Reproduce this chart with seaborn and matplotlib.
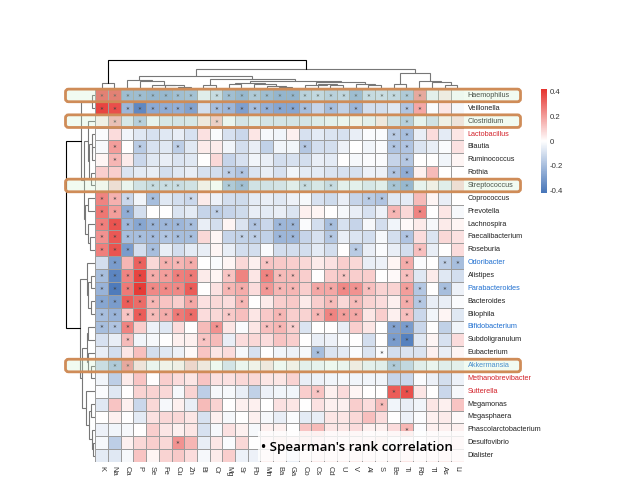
import matplotlib
matplotlib.use("Agg")
import matplotlib.pyplot as plt
import seaborn as sns
import pandas as pd
import numpy as np
from matplotlib.colors import LinearSegmentedColormap
from matplotlib.patches import FancyBboxPatch, Rectangle

W, H = 633, 504

elements = ["K", "Na", "Ca", "P", "Se", "Fe", "Cu", "Zn", "Bi", "Cr", "Mg", "Sr", "Pb", "Mn", "Ba",
            "Ga", "Co", "Cs", "Cd", "U", "V", "Al", "S", "Be", "Ti", "Rb", "Tl", "As", "Li"]

genera = ["Haemophilus", "Veillonella", "Clostridium", "Lactobacillus", "Blautia", "Ruminococcus",
          "Rothia", "Streptococcus", "Coprococcus", "Prevotella", "Lachnospira", "Faecalibacterium",
          "Roseburia", "Odoribacter", "Alistipes", "Parabacteroides", "Bacteroides", "Bilophila",
          "Bifidobacterium", "Subdoligranulum", "Eubacterium", "Akkermansia", "Methanobrevibacter",
          "Sutterella", "Megamonas", "Megasphaera", "Phascolarctobacterium", "Desulfovibrio", "Dialister"]

red_labels = ["Lactobacillus", "Methanobrevibacter", "Sutterella"]
blue_labels = ["Odoribacter", "Parabacteroides", "Bifidobacterium", "Akkermansia"]
boxed_rows = ["Haemophilus", "Clostridium", "Streptococcus", "Akkermansia"]

# correlation, one row per genus
corr = [
    [.33, .33, -.25, -.25, -.27, -.27, -.24, -.23, -.05, -.13, -.24, -.27, -.2, -.25, -.28, -.28, -.17, -.14, -.17, -.15, -.25, -.13, -.12, -.14, -.2, .22, -.04, .04, -.01],
    [.38, .36, -.22, -.36, -.26, -.25, -.24, -.28, -.1, -.2, -.22, -.29, -.2, -.24, -.27, -.27, -.2, -.13, -.2, -.14, -.22, -.1, -.1, -.07, -.18, .18, -.01, .05, -.02],
    [.03, .16, -.08, -.18, -.03, -.08, -.09, -.08, .05, .12, -.02, -.09, -.05, -.09, -.09, -.09, -.09, -.06, -.04, -.02, .02, -.04, .05, -.1, -.18, -.03, -.1, .03, .06],
    [-.01, .07, -.03, -.07, -.09, -.07, -.05, -.09, .06, -.01, -.09, -.12, .05, -.02, -.03, .03, -.09, -.06, -.08, -.09, -.05, -.01, -.01, -.16, -.2, -.05, .07, -.06, .05],
    [-.02, .2, 0, -.16, -.09, -.07, -.15, -.07, .04, .04, -.03, -.1, -.05, -.14, -.03, -.03, -.17, -.1, -.1, -.04, 0, -.03, -.01, -.18, -.18, -.08, -.05, -.01, .06],
    [.02, .15, .04, -.12, -.07, -.05, -.08, -.07, 0, .08, -.13, -.09, -.03, -.05, -.1, -.09, -.1, -.05, -.06, 0, -.02, -.01, -.01, -.13, -.17, 0, 0, -.03, .02],
    [.1, .1, -.08, -.06, -.05, -.1, -.07, -.05, -.09, -.1, -.15, -.18, -.08, -.05, -.09, -.03, -.06, -.06, -.08, -.09, -.09, -.04, -.04, -.18, -.25, .03, .14, 0, 0],
    [.01, .08, -.02, -.1, -.13, -.12, -.12, -.1, .03, 0, -.2, -.24, -.1, -.1, -.09, -.05, -.13, -.08, -.13, -.04, -.04, -.08, -.05, -.22, -.27, -.03, .03, -.05, .08],
    [.25, .16, -.12, -.03, -.2, -.07, -.1, -.12, .04, -.04, -.1, -.11, -.06, -.05, -.07, -.04, -.02, -.09, -.11, -.05, -.13, -.16, -.18, -.07, -.06, .14, .02, -.05, 0],
    [.28, .2, -.25, -.1, 0, 0, -.08, -.06, -.13, -.15, -.13, -.11, -.05, -.06, -.05, -.08, .03, .02, 0, -.02, -.05, -.09, -.04, .15, .08, .25, 0, .05, -.02],
    [.26, .35, -.22, -.27, -.23, -.22, -.22, -.2, -.05, -.1, .02, -.08, -.18, -.12, -.22, -.22, -.01, -.1, -.2, -.09, -.13, -.02, -.1, -.03, .01, .04, -.02, .04, .02],
    [.22, .34, -.2, -.2, -.21, -.18, -.2, -.2, .08, .02, -.13, -.14, -.15, -.14, -.22, -.22, -.13, -.09, -.17, -.05, -.08, -.1, -.02, -.1, -.18, .07, -.08, .08, .06],
    [.26, .35, -.3, -.1, -.2, -.05, -.1, -.06, -.05, .02, -.05, -.1, -.1, -.01, -.1, -.1, -.1, -.06, -.1, 0, -.16, -.05, -.01, -.05, -.1, .13, -.05, 0, .07],
    [-.1, -.3, .15, .32, .08, .16, .15, .17, 0, -.01, .02, .08, .03, .12, .11, .1, .08, .04, .06, .1, .08, -.05, -.04, .02, .17, -.01, 0, -.15, -.2],
    [-.2, -.37, .25, .38, .17, .2, .26, .27, .04, .02, .12, .25, .05, .25, .14, .14, .1, 0, .1, .12, .1, .1, 0, .01, .13, -.07, .04, -.07, -.1],
    [-.23, -.4, .27, .4, .24, .24, .24, .33, 0, .06, .15, .17, .07, .21, .15, .15, .1, .18, .18, .24, .22, .13, .09, .09, .2, -.17, 0, -.2, -.04],
    [-.27, -.3, .33, .3, .15, .12, .1, .18, .06, .08, .07, .15, 0, .04, .1, .11, .04, .1, .14, .08, .14, .09, .07, .03, .17, -.17, -.05, -.05, -.01],
    [-.2, -.23, .12, .33, .14, .17, .27, .3, .07, .08, .11, .13, .05, .11, .15, .1, .09, .15, .25, .2, .18, .05, .1, .03, .13, -.12, -.03, .02, -.07],
    [-.2, -.18, .25, .1, -.04, -.07, .07, 0, .14, .22, .05, -.01, .05, .13, .15, .1, -.08, 0, 0, -.05, .1, .05, 0, -.28, -.3, -.12, 0, -.14, -.03],
    [-.09, -.05, .14, -.03, -.02, 0, .03, .03, .12, .14, -.05, .07, .08, .07, .12, .1, 0, -.05, -.04, -.01, 0, -.1, 0, -.3, -.38, -.07, .02, -.09, .07],
    [-.05, -.1, .05, .13, -.1, -.07, -.04, .01, .12, .05, .07, -.02, -.09, 0, -.03, -.04, -.02, -.2, -.08, -.06, -.01, -.08, -.01, -.1, -.08, -.08, .03, -.05, .02],
    [-.12, -.2, .22, .06, -.02, .02, .03, .1, .05, -.01, -.09, -.02, .02, .05, -.01, .03, -.04, -.03, -.01, -.02, .04, -.04, -.05, -.2, -.14, -.05, -.02, -.05, -.04],
    [-.03, -.15, .04, .12, 0, .1, .07, .05, .12, .06, .06, .08, .08, .05, .05, .09, -.05, -.04, -.03, -.02, -.03, -.03, -.03, -.13, -.12, -.01, -.04, -.1, -.04],
    [-.01, -.07, 0, .09, .09, .08, -.02, .09, -.15, -.02, -.02, -.05, -.14, -.04, -.03, -.03, .1, .12, .03, .07, .02, 0, 0, .33, .36, .05, 0, -.12, -.02],
    [-.07, .12, .03, -.12, .08, -.02, .03, -.05, .14, .09, 0, .03, .03, 0, .06, .05, 0, .06, .03, .03, .1, .07, .14, -.03, -.05, -.03, .05, .03, .12],
    [0, .03, 0, -.06, .06, .08, .08, .05, -.09, .03, -.02, 0, .03, -.02, -.05, -.01, -.06, -.05, .05, .05, .08, .13, .07, 0, -.04, -.01, .03, .04, .01],
    [-.04, -.03, -.02, 0, .1, .05, .03, .05, -.09, -.02, .06, .03, -.02, .03, .03, 0, .12, .14, .05, .05, .07, .03, .03, .07, .15, -.01, .03, .03, .03],
    [-.02, -.15, .03, .08, .1, .08, .22, .15, -.05, .05, -.01, .08, 0, .05, .08, .05, .1, .07, .05, .03, .05, .05, .08, .02, .03, 0, .03, .05, .05],
    [-.06, -.07, -.02, .12, .02, .09, .11, .07, -.02, .04, .1, -.04, -.04, .03, .02, -.05, .02, .04, .03, .03, .04, .03, .02, .03, .05, .02, .03, .04, .03],
]

# significant cells per genus
signif = {
    "Haemophilus": "K Na Ca P Se Fe Cu Zn Cr Mg Sr Pb Mn Ba Ga Co Cs Cd U V Al S Be Ti Rb",
    "Veillonella": "K Na Ca P Se Fe Cu Zn Cr Mg Sr Pb Mn Ba Ga Co Cd V Ti Rb",
    "Clostridium": "Na P Cr Ti",
    "Lactobacillus": "Be Ti",
    "Blautia": "Na P Cu Co Be Ti",
    "Ruminococcus": "Na Ti",
    "Rothia": "Mg Sr Be Ti",
    "Streptococcus": "Se Fe Cu Mg Sr Co Cd Be Ti",
    "Coprococcus": "K Na Ca Se Zn Al S",
    "Prevotella": "K Na Ca Cr Be Rb",
    "Lachnospira": "K Na Ca P Se Fe Cu Zn Pb Ba Ga Cd",
    "Faecalibacterium": "K Na Ca P Se Fe Cu Zn Sr Pb Ba Ga Cd Ti",
    "Roseburia": "K Na Ca Se V Rb",
    "Odoribacter": "Na P Fe Cu Zn Mn Ti As Li",
    "Alistipes": "K Na Ca P Se Fe Cu Zn Mg Mn Ba Ga U Ti",
    "Parabacteroides": "K Na Ca P Se Fe Cu Zn Mg Sr Mn Ba Ga Cs Cd U V Al Ti Rb As",
    "Bacteroides": "K Na Ca P Se Zn Sr Cd V Ti Rb",
    "Bilophila": "K Na Ca P Se Fe Cu Zn Mg Ba Cs Cd U V Ti",
    "Bifidobacterium": "K Na Ca Cr Mn Ba Ga Be Ti",
    "Subdoligranulum": "Ca Bi Be Ti",
    "Eubacterium": "Cs S",
    "Akkermansia": "Na Ca Be",
    "Sutterella": "Cs Be Ti",
    "Megamonas": "S",
    "Phascolarctobacterium": "Ti",
    "Desulfovibrio": "Cu",
}

# dendrograms: (merge height in px, left, right), a leaf is its position in the heatmap
col_tree = (29.5,
            (6, 0, 1),
            (20, (13, (8.7, 2, (7.7, 3, (4.4, 4, (3.7, 5, (2.3, 6, 7))))),
                  (9.7, (4.3, 8, 9),
                   (8.5, (6, (4.7, 10, 11), (5.3, 12, (3.5, 13, (2, 14, 15)))),
                    (7, (4.5, 16, (4.7, 17, (3.7, 18, 19))), (5.3, 20, (3.7, 21, 22)))))),
             (16, (5, 23, 24), (8, 25, (7, 26, (4.3, 27, 28))))))

row_tree = (29.6,
            (14, (3.6, 0, 1),
             (11, (7, 2, (6, (3.6, 3, (3.3, 4, 5)), (4.6, 6, 7))),
              (10.3, (7, 8, 9), (7, 10, (5.3, 11, 12))))),
            (15.3, (8.6, 13, (7.6, (4.3, 14, 15), (4.3, 16, 17))),
             (13.6, (8, (7, 18, 19), (7, 20, (4.3, 21, 22))),
              (9.3, 23, (6, (4.3, 24, 25), (3.6, 26, (2.6, 27, 28)))))))

box_color = "#cf8c58"
tree_color = "#777777"


def px_axes(fig, x0, y0, x1, y1):
    return fig.add_axes([x0 / W, 1 - y1 / H, (x1 - x0) / W, (y1 - y0) / H])


def draw_tree(ax, node, vertical):
    # returns (leaf position, height) of a node and draws its bracket
    if not isinstance(node, tuple):
        return node + 0.5, 0
    h, a, b = node
    pa, ha = draw_tree(ax, a, vertical)
    pb, hb = draw_tree(ax, b, vertical)
    pos = [pa, pa, pb, pb]
    hts = [ha, h, h, hb]
    c = "black" if node is col_tree or node is row_tree else tree_color
    if vertical:
        ax.plot(pos, hts, color=c, lw=0.8, solid_joinstyle="miter")
    else:
        ax.plot(hts, pos, color=c, lw=0.8, solid_joinstyle="miter")
    return (pa + pb) / 2, h


sns.set_theme(style="white")
plt.rcParams["font.family"] = ["Liberation Sans", "DejaVu Sans"]

df = pd.DataFrame(corr, index=genera, columns=elements)
stars = pd.DataFrame("", index=genera, columns=elements)
for genus, cols in signif.items():
    for el in cols.split():
        stars.loc[genus, el] = "\u2217"

cmap = LinearSegmentedColormap.from_list("rwb", ["#4675b8", "#ffffff", "#e5322d"])

fig = plt.figure(figsize=(W / 100, H / 100), dpi=100, facecolor="white")
ax = px_axes(fig, 95.3, 89, 463.6, 462)
cax = px_axes(fig, 540.7, 89, 547, 193)

sns.heatmap(df, ax=ax, cmap=cmap, vmin=-0.42, vmax=0.42, annot=stars, fmt="",
            annot_kws={"size": 3.4, "color": "#444444"},
            linewidths=0.6, linecolor="#9c9c9c", cbar_ax=cax,
            xticklabels=True, yticklabels=True)

ax.xaxis.tick_bottom()
ax.yaxis.tick_right()
ax.tick_params(axis="both", length=0)
ax.tick_params(axis="y", pad=3)
ax.tick_params(axis="x", pad=3)
ax.set_xticklabels(elements, rotation=270, fontsize=5.4, color="#333333", va="top", ha="center")
ax.set_yticklabels(genera, rotation=0, fontsize=5.2, color="#222222", va="center")
for lab in ax.get_yticklabels():
    if lab.get_text() in red_labels:
        lab.set_color("#d3222a")
    elif lab.get_text() in blue_labels:
        lab.set_color("#1f6fd0")

cb = ax.collections[0].colorbar
cb.set_ticks([-0.4, -0.2, 0, 0.2, 0.4])
cb.set_ticklabels(["-0.4", "-0.2", "0", "0.2", "0.4"])
cb.ax.tick_params(length=0, labelsize=5.6, pad=2, labelcolor="#333333")
cb.outline.set_visible(False)

top = px_axes(fig, 95.3, 55, 463.6, 89)
draw_tree(top, col_tree, True)
top.set_xlim(0, len(elements))
top.set_ylim(0, 34)
top.set_axis_off()

left = px_axes(fig, 61.3, 89, 95.3, 462)
draw_tree(left, row_tree, False)
left.set_xlim(34, 0)
left.set_ylim(len(genera), 0)
left.set_axis_off()

# overlay in pixel coordinates for the highlight boxes and the note
over = fig.add_axes([0, 0, 1, 1])
over.set_xlim(0, W)
over.set_ylim(H, 0)
over.set_axis_off()
over.patch.set_alpha(0)
for name in boxed_rows:
    yc = 89 + (genera.index(name) + 0.5) * (462 - 89) / len(genera)
    over.add_patch(FancyBboxPatch((65.5, yc - 6.3), 455, 12.6,
                                  boxstyle="round,pad=0,rounding_size=3",
                                  facecolor="#c8f0c8", edgecolor="none", alpha=0.25))
    over.add_patch(FancyBboxPatch((65.5, yc - 6.3), 455, 12.6,
                                  boxstyle="round,pad=0,rounding_size=3",
                                  facecolor="none", edgecolor=box_color, lw=2.0))
over.add_patch(Rectangle((258, 431), 207, 30, facecolor="white", edgecolor="none", alpha=0.8))
over.text(261, 447.5, "• Spearman's rank correlation", fontsize=9.6, family=["Open Sans", "DejaVu Sans"],
          fontweight="semibold", color="black", va="center", ha="left")

fig.savefig("out.png", dpi=100)
